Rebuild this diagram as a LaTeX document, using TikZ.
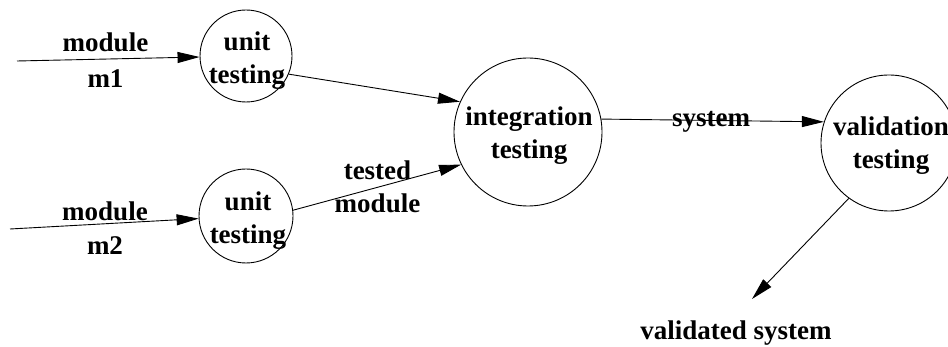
\documentclass[tikz,border=0pt]{standalone}
\usepackage{fontspec}
\setmainfont{Liberation Serif}
\usetikzlibrary{arrows.meta}
\tikzset{
  proc/.style={circle, draw, line width=0.9pt, inner sep=0pt, minimum size=#1},
  txt/.style={inner sep=0pt, align=center, font=\fontsize{27}{33}\selectfont\bfseries},
  flow/.style={line width=0.9pt, -{Triangle[length=22pt,width=11pt]}}
}
\begin{document}
\begin{tikzpicture}[x=1pt,y=-1pt]
\useasboundingbox (0,0) rectangle (948,347);
\clip (0,0) rectangle (948,347);
% processes
\node[proc=92pt] (u1) at (246,56) {};
\node[proc=94pt] (u2) at (246,216) {};
\node[proc=148pt] (it) at (528,132) {};
\node[proc=136pt] (va) at (889,143) {};
\node[txt] (u1t) at (247,60.5) {unit\\testing};
\node[txt] (u2t) at (248,220.5) {unit\\testing};
\node[txt] (itt) at (529,135.5) {integration\\testing};
\node[txt] (vat) at (891,145.5) {validation\\testing};
% free ends
\coordinate (in1) at (17,61);
\coordinate (in2) at (10,229);
\coordinate (out) at (752,299);
% connectors
\draw[flow] (in1) -- (u1);
\draw[flow] (in2) -- (u2);
\draw[flow] (u1.-23) -- (it.156);
\draw[flow] (u2.7) -- (it.206);
\draw[flow] (it.10) -- (va.162);
\draw[flow] (va.234) -- (out);
% labels
\node[txt] (l1a) at (105.5,42) {module};
\node[txt] (l1b) at (105.5,78.5) {m1};
\node[txt] (l2a) at (105,211.5) {module};
\node[txt] (l2b) at (105,245.5) {m2};
\node[txt] (l3) at (377.5,186.5) {tested\\module};
\node[txt] (l4) at (711,122) {system};
\node[txt] (l5) at (736,333) {validated system};
\end{tikzpicture}
\end{document}
